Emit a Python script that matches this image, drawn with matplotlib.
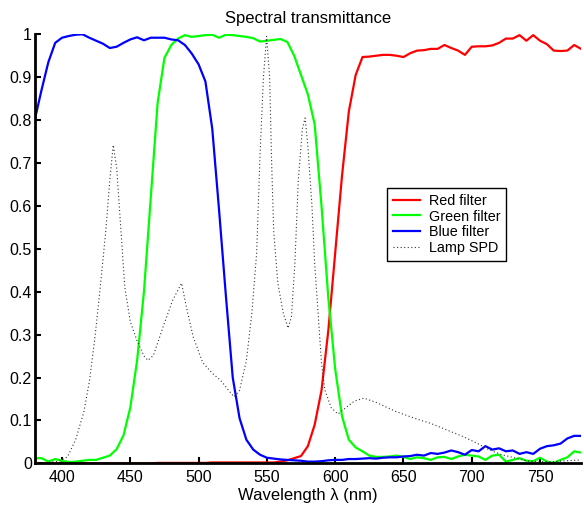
"""Spectral transmittance of RGB filters with the lamp SPD overlaid."""

import matplotlib

matplotlib.use("Agg")
import matplotlib.pyplot as plt
import numpy as np

plt.rcParams["font.family"] = ["Liberation Sans", "DejaVu Sans"]

# filter curves, sampled every 5 nm from 380 to 780
wavelength = np.arange(380, 781, 5)

red_filter = [
    0.0, 0.0, 0.0, 0.0, 0.0, 0.0, 0.0, 0.0, 0.0, 0.0,
    0.0, 0.0, 0.0, 0.0, 0.0, 0.0, 0.0, 0.0, 0.001, 0.001,
    0.001, 0.001, 0.001, 0.001, 0.001, 0.001, 0.002, 0.002, 0.002, 0.002,
    0.002, 0.002, 0.002, 0.002, 0.002, 0.002, 0.004, 0.007, 0.012, 0.017,
    0.04, 0.09, 0.17, 0.31, 0.49, 0.67, 0.82, 0.905, 0.947, 0.948,
    0.95, 0.952, 0.952, 0.95, 0.947, 0.956, 0.962, 0.963, 0.966, 0.966,
    0.975, 0.968, 0.962, 0.952, 0.971, 0.972, 0.972, 0.974, 0.98, 0.99,
    0.99, 0.998, 0.985, 0.998, 0.985, 0.977, 0.962, 0.961, 0.962, 0.975,
    0.966,
]

green_filter = [
    0.012, 0.012, 0.004, 0.010, 0.006, 0.003, 0.004, 0.006, 0.008, 0.008,
    0.013, 0.018, 0.033, 0.065, 0.13, 0.24, 0.40, 0.62, 0.84, 0.945,
    0.975, 0.99, 0.998, 0.994, 0.996, 0.998, 0.999, 0.992, 0.999, 0.998,
    0.996, 0.994, 0.991, 0.983, 0.985, 0.987, 0.989, 0.982, 0.95, 0.905,
    0.86, 0.79, 0.60, 0.385, 0.22, 0.11, 0.055, 0.037, 0.028, 0.018,
    0.015, 0.015, 0.016, 0.018, 0.015, 0.010, 0.014, 0.012, 0.008, 0.014,
    0.015, 0.010, 0.016, 0.020, 0.018, 0.016, 0.008, 0.018, 0.020, 0.004,
    0.008, 0.012, 0.006, 0.005, 0.013, 0.004, 0.001, 0.008, 0.014, 0.028,
    0.025,
]

blue_filter = [
    0.80, 0.87, 0.935, 0.98, 0.992, 0.996, 0.999, 1.0, 0.992, 0.985,
    0.978, 0.968, 0.971, 0.98, 0.988, 0.993, 0.986, 0.992, 0.992, 0.992,
    0.988, 0.986, 0.975, 0.955, 0.93, 0.89, 0.78, 0.59, 0.39, 0.20,
    0.105, 0.055, 0.032, 0.02, 0.013, 0.011, 0.009, 0.008, 0.007, 0.006,
    0.004, 0.004, 0.005, 0.007, 0.008, 0.008, 0.010, 0.010, 0.011, 0.012,
    0.011, 0.013, 0.014, 0.014, 0.016, 0.017, 0.020, 0.018, 0.024, 0.022,
    0.025, 0.030, 0.026, 0.020, 0.031, 0.028, 0.040, 0.032, 0.035, 0.028,
    0.030, 0.022, 0.026, 0.022, 0.034, 0.040, 0.042, 0.046, 0.058, 0.064,
    0.064,
]

# lamp SPD, read at its breakpoints
lamp_wavelength = [
    380, 390, 398, 404, 410, 416, 420, 424, 428, 432, 435, 437.5, 440, 443,
    446, 450, 455, 460, 463, 467, 474, 481, 487.5, 491, 496, 503, 510, 516,
    522, 526, 530, 535, 539, 542.5, 545, 547.5, 549.8, 552, 553.5, 555, 558,
    562, 565.5, 568, 570.5, 573, 576, 578, 580, 583, 585, 587.5, 590, 592.5,
    597, 602, 608, 614, 621, 630, 645, 660, 670, 680, 694, 705, 713, 722,
    730, 740, 748, 760, 770, 780,
]
lamp_spd = [
    0.0, 0.002, 0.005, 0.015, 0.055, 0.12, 0.19, 0.29, 0.41, 0.54, 0.66, 0.742,
    0.69, 0.55, 0.41, 0.33, 0.285, 0.25, 0.24, 0.252, 0.318, 0.38, 0.42,
    0.365, 0.295, 0.235, 0.21, 0.194, 0.17, 0.155, 0.17, 0.24, 0.35, 0.49,
    0.72, 0.90, 0.995, 0.90, 0.70, 0.54, 0.42, 0.35, 0.315, 0.342, 0.466,
    0.66, 0.78, 0.805, 0.74, 0.60, 0.466, 0.35, 0.233, 0.171, 0.13, 0.115,
    0.13, 0.145, 0.152, 0.142, 0.12, 0.103, 0.093, 0.08, 0.062, 0.045, 0.031,
    0.02, 0.014, 0.006, 0.004, 0.004, 0.006, 0.008,
]

x_ticks = [400, 450, 500, 550, 600, 650, 700, 750]
y_ticks = [0, 0.1, 0.2, 0.3, 0.4, 0.5, 0.6, 0.7, 0.8, 0.9, 1]
y_tick_labels = ["0", "0.1", "0.2", "0.3", "0.4", "0.5", "0.6", "0.7", "0.8", "0.9", "1"]

fig = plt.figure(figsize=(5.84, 5.11), dpi=100)
ax = fig.add_axes([0.0594, 0.0933, 0.9355, 0.8396])

ax.plot(wavelength, red_filter, color=(1, 0, 0), lw=1.6, label="Red filter")
ax.plot(wavelength, green_filter, color=(0, 1, 0), lw=1.6, label="Green filter")
ax.plot(wavelength, blue_filter, color=(0, 0, 1), lw=1.6, label="Blue filter")
ax.plot(lamp_wavelength, lamp_spd, color="#333333", lw=0.8, ls=(0, (1, 2.2)),
        label="Lamp SPD")

ax.set_xlim(380, 780)
ax.set_ylim(0, 1)
ax.set_xticks(x_ticks)
ax.set_yticks(y_ticks)
ax.set_yticklabels(y_tick_labels)
ax.tick_params(direction="in", length=4, width=1.5, labelsize=11.5)
ax.tick_params(axis="y", pad=2)
ax.tick_params(axis="x", pad=5)

for side in ("top", "right"):
    ax.spines[side].set_visible(False)
for side in ("left", "bottom"):
    ax.spines[side].set_linewidth(2)

ax.set_title("Spectral transmittance", fontsize=12, pad=8)
ax.set_xlabel("Wavelength λ (nm)", fontsize=12, labelpad=2)

leg = ax.legend(loc="upper left", bbox_to_anchor=(0.645, 0.642), borderaxespad=0,
                fontsize=10.4, fancybox=False, framealpha=1, handlelength=1.9,
                handletextpad=0.6, labelspacing=0.13, borderpad=0.4)
leg.get_frame().set_edgecolor("black")
leg.get_frame().set_linewidth(1)

fig.savefig("out.png", dpi=100)
